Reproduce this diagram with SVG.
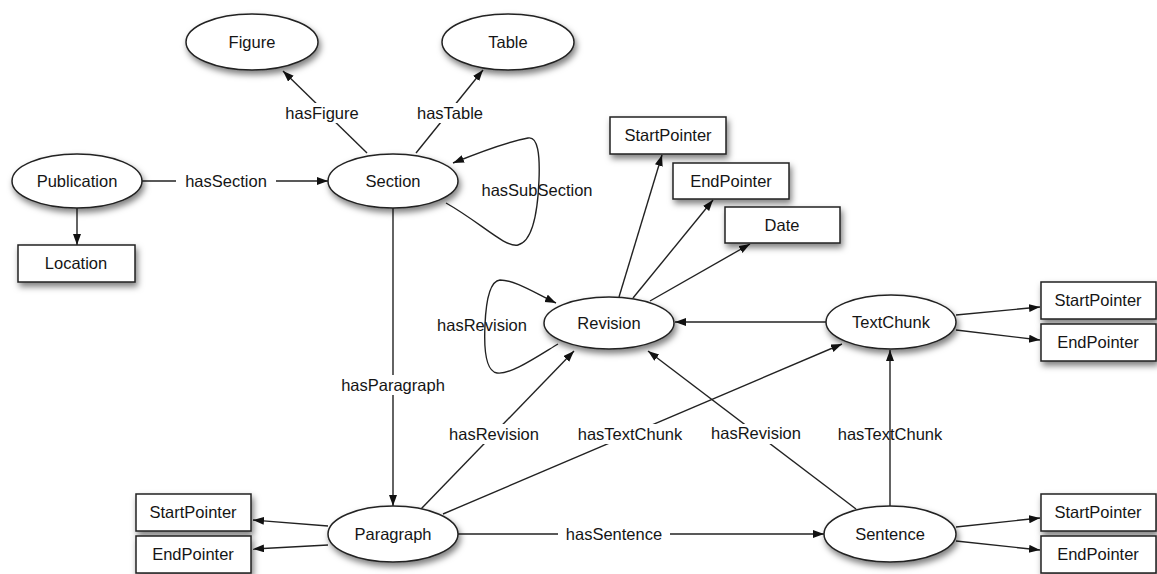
<svg xmlns="http://www.w3.org/2000/svg" width="1157" height="574" viewBox="0 0 1157 574">
<style>
.n{fill:#fff;stroke:#222;stroke-width:1.5;filter:url(#sh)}
.t{font-family:"Liberation Sans",Arial,sans-serif;font-size:16.5px;fill:#151515;text-anchor:middle;dominant-baseline:central}
.e{fill:none;stroke:#222;stroke-width:1.4}
.a{marker-end:url(#ar)}
.bg{fill:#fff}
</style>
<defs>
<filter id="sh" x="-30%" y="-30%" width="160%" height="180%">
<feDropShadow dx="2" dy="4" stdDeviation="3" flood-color="#000" flood-opacity="0.5"/>
</filter>
<marker id="ar" markerUnits="userSpaceOnUse" markerWidth="12" markerHeight="10" refX="11" refY="4" orient="auto">
<path d="M0,0 L11,4 L0,8 z" fill="#111"/>
</marker>
</defs>

<g id="connectors">
<line class="e a" x1="142" y1="181" x2="328" y2="181"/>
<line class="e a" x1="77" y1="208" x2="77" y2="245"/>
<line class="e a" x1="367" y1="153" x2="283" y2="71"/>
<line class="e a" x1="416" y1="153" x2="483" y2="70"/>
<path class="e a" d="M446,203 C480,222 505,248 518,245 C534,241 538,205 539,180 C540,155 538,136 528,138 C512,141 480,152 453,163"/>
<line class="e a" x1="393" y1="208" x2="393" y2="506"/>
<line class="e a" x1="619" y1="297" x2="662" y2="155"/>
<line class="e a" x1="633" y1="298" x2="713" y2="200"/>
<line class="e a" x1="650" y1="301" x2="750" y2="244"/>
<path class="e a" d="M558,344 C535,358 510,375 497,373 C485,371 484,345 485,325 C486,300 490,281 500,280 C515,280 535,293 556,303"/>
<line class="e a" x1="826" y1="322" x2="675" y2="322"/>
<line class="e a" x1="956" y1="315" x2="1040" y2="307"/>
<line class="e a" x1="956" y1="330" x2="1040" y2="340"/>
<line class="e a" x1="421" y1="509" x2="574" y2="351"/>
<line class="e a" x1="443" y1="514" x2="842" y2="344"/>
<line class="e a" x1="856" y1="509" x2="648" y2="351"/>
<line class="e a" x1="890" y1="506" x2="890" y2="350"/>
<line class="e a" x1="458" y1="534" x2="824" y2="534"/>
<line class="e a" x1="328" y1="526" x2="253" y2="520"/>
<line class="e a" x1="328" y1="545" x2="253" y2="549"/>
<line class="e a" x1="956" y1="527" x2="1040" y2="518"/>
<line class="e a" x1="956" y1="541" x2="1040" y2="550"/>
</g>

<g id="edge-labels">
<rect class="bg" x="176" y="171" width="100" height="20"/>
<text class="t" x="226" y="181">hasSection</text>
<rect class="bg" x="282" y="103" width="80" height="20"/>
<text class="t" x="322" y="113">hasFigure</text>
<rect class="bg" x="412" y="103" width="76" height="20"/>
<text class="t" x="450" y="113">hasTable</text>
<text class="t" x="537" y="190">hasSubSection</text>
<rect class="bg" x="333" y="375" width="120" height="20"/>
<text class="t" x="393" y="385">hasParagraph</text>
<text class="t" x="482" y="325">hasRevision</text>
<rect class="bg" x="444" y="424" width="100" height="20"/>
<text class="t" x="494" y="434">hasRevision</text>
<rect class="bg" x="572" y="424" width="116" height="20"/>
<text class="t" x="630" y="434">hasTextChunk</text>
<rect class="bg" x="706" y="424" width="100" height="20"/>
<text class="t" x="756" y="433">hasRevision</text>
<text class="t" x="890" y="434">hasTextChunk</text>
<rect class="bg" x="558" y="524" width="112" height="20"/>
<text class="t" x="614" y="534">hasSentence</text>
</g>

<g id="publication"><ellipse class="n" cx="77" cy="181" rx="65" ry="27"/><text class="t" x="77" y="181">Publication</text></g>
<g id="location"><rect class="n" x="18" y="245" width="117" height="37"/><text class="t" x="76" y="263">Location</text></g>
<g id="figure"><ellipse class="n" cx="252" cy="42" rx="66" ry="28"/><text class="t" x="252" y="42">Figure</text></g>
<g id="table"><ellipse class="n" cx="508" cy="42" rx="66" ry="28"/><text class="t" x="508" y="42">Table</text></g>
<g id="section"><ellipse class="n" cx="393" cy="181" rx="65" ry="27"/><text class="t" x="393" y="181">Section</text></g>
<g id="revision-startpointer"><rect class="n" x="610" y="117" width="116" height="37"/><text class="t" x="668" y="135">StartPointer</text></g>
<g id="revision-endpointer"><rect class="n" x="673" y="163" width="116" height="36"/><text class="t" x="731" y="181">EndPointer</text></g>
<g id="date"><rect class="n" x="725" y="207" width="115" height="36"/><text class="t" x="782" y="225">Date</text></g>
<g id="revision"><ellipse class="n" cx="609" cy="323" rx="65" ry="26"/><text class="t" x="609" y="323">Revision</text></g>
<g id="textchunk"><ellipse class="n" cx="891" cy="322" rx="65" ry="27"/><text class="t" x="891" y="322">TextChunk</text></g>
<g id="textchunk-startpointer"><rect class="n" x="1041" y="282" width="115" height="37"/><text class="t" x="1098" y="300">StartPointer</text></g>
<g id="textchunk-endpointer"><rect class="n" x="1041" y="324" width="115" height="37"/><text class="t" x="1098" y="342">EndPointer</text></g>
<g id="paragraph"><ellipse class="n" cx="393" cy="534" rx="65" ry="28"/><text class="t" x="393" y="534">Paragraph</text></g>
<g id="paragraph-startpointer"><rect class="n" x="136" y="494" width="115" height="37"/><text class="t" x="193" y="512">StartPointer</text></g>
<g id="paragraph-endpointer"><rect class="n" x="136" y="536" width="115" height="37"/><text class="t" x="193" y="554">EndPointer</text></g>
<g id="sentence"><ellipse class="n" cx="890" cy="534" rx="66" ry="28"/><text class="t" x="890" y="534">Sentence</text></g>
<g id="sentence-startpointer"><rect class="n" x="1041" y="494" width="115" height="37"/><text class="t" x="1098" y="512">StartPointer</text></g>
<g id="sentence-endpointer"><rect class="n" x="1041" y="536" width="115" height="37"/><text class="t" x="1098" y="554">EndPointer</text></g>
</svg>
